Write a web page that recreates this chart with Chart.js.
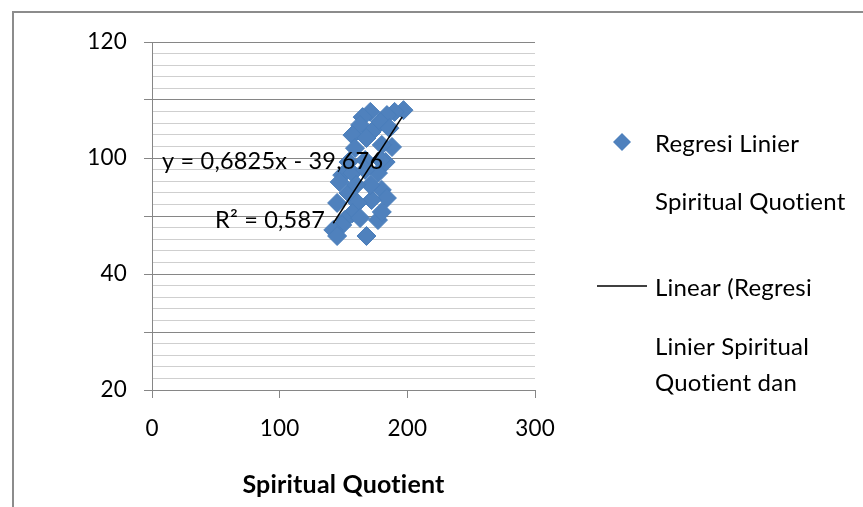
<!DOCTYPE html>
<html>
<head>
<meta charset="utf-8">
<script src="https://cdn.jsdelivr.net/npm/chart.js@4/dist/chart.umd.min.js"></script>
<style>
  body { margin: 0; background: #fff; }
  #wrap { width: 863px; height: 507px; }
</style>
</head>
<body>
<div id="wrap"><canvas id="sqChart" width="863" height="507"></canvas></div>
<script>
// Spiritual Quotient (x) vs regression score (y)
const sqValues = [197, 190, 184, 171, 165, 179, 186, 163, 172, 157,
                  168, 188, 180, 159, 167, 183, 154, 179, 149, 157,
                  177, 167, 147, 180, 184, 154, 172, 161, 145, 157,
                  151, 177, 180, 149, 142, 145, 168, 163, 171, 160];
const regValues = [96.5, 95.9, 94.8, 95.9, 94.1, 92.4, 90.3, 91.4, 89.0, 87.9,
                   86.9, 83.8, 84.5, 83.4, 79.3, 78.6, 78.6, 79.3, 74.1, 74.8,
                   74.8, 75.9, 71.7, 69.0, 66.2, 67.9, 65.5, 64.5, 64.5, 61.0,
                   58.6, 58.6, 61.4, 56.9, 55.2, 53.1, 53.1, 59.3, 70.7, 70.7];

// trendline end points
const trendX = [142, 196];
const trendY = [57.5, 94.2];

// y axis labels as printed (other major lines carry no label)
const yTickText = { 120: '120', 80: '100', 40: '40', 0: '20' };
const xTickStep = 100;

const equationText = 'y = 0,6825x - 39,676';
const r2Text = 'R² = 0,587';
const legendLines1 = ['Regresi Linier', 'Spiritual Quotient'];
const legendLines2 = ['Linear (Regresi', 'Linier Spiritual', 'Quotient dan'];

const FONT = 'Lato, "Open Sans", sans-serif';
const BLUE = '#4F81BD';
const MAJOR = '#868686';
const MINOR = '#cfcfcf';

const scatterPoints = sqValues.map((x, i) => ({ x: x, y: regValues[i] }));
const trendPoints = trendX.map((x, i) => ({ x: x, y: trendY[i] }));

const extrasPlugin = {
    id: 'extras',
    beforeDraw(chart) {
        const ctx = chart.ctx;
        // small spacing keeps Lato from joining "ti"
        ctx.letterSpacing = '0.2px';
        ctx.save();
        ctx.fillStyle = '#fff';
        ctx.fillRect(0, 0, chart.width, chart.height);
        // outer chart frame (left and top edges visible)
        ctx.fillStyle = '#8c8c8c';
        ctx.fillRect(12, 11, 2, chart.height - 11);
        ctx.fillRect(12, 11, chart.width - 12, 2);
        ctx.restore();
    },
    afterDatasetsDraw(chart) {
        const ctx = chart.ctx;
        ctx.save();
        ctx.fillStyle = '#000';
        ctx.font = '23.5px ' + FONT;
        ctx.textBaseline = 'middle';
        ctx.textAlign = 'left';
        ctx.fillText(equationText, 162, 161);
        ctx.fillText(r2Text, 215, 220);

        // legend
        ctx.fillStyle = BLUE;
        ctx.beginPath();
        ctx.moveTo(622, 133);
        ctx.lineTo(631, 142);
        ctx.lineTo(622, 151);
        ctx.lineTo(613, 142);
        ctx.closePath();
        ctx.fill();

        ctx.strokeStyle = '#000';
        ctx.lineWidth = 1.5;
        ctx.beginPath();
        ctx.moveTo(597, 286);
        ctx.lineTo(647, 286);
        ctx.stroke();

        ctx.fillStyle = '#000';
        ctx.font = '24px ' + FONT;
        ctx.fillText(legendLines1[0], 655, 144);
        ctx.fillText(legendLines1[1], 655, 202);
        ctx.fillText(legendLines2[0], 655, 288);
        ctx.fillText(legendLines2[1], 655, 347);
        ctx.fillText(legendLines2[2], 655, 383);
        ctx.restore();
    }
};

const ctx = document.getElementById('sqChart').getContext('2d');
new Chart(ctx, {
    type: 'scatter',
    data: {
        datasets: [{
            label: 'Linear (Regresi Linier Spiritual Quotient dan',
            type: 'line',
            data: trendPoints,
            borderColor: '#000',
            borderWidth: 1.5,
            pointRadius: 0,
            fill: false,
            order: 0
        }, {
            label: 'Regresi Linier Spiritual Quotient',
            data: scatterPoints,
            pointStyle: 'rectRot',
            pointRadius: 9.5,
            backgroundColor: BLUE,
            borderColor: '#4A7EBB',
            borderWidth: 1,
            order: 1
        }]
    },
    options: {
        responsive: false,
        animation: false,
        layout: {
            padding: { left: 0, top: 42, right: 328, bottom: 0 }
        },
        plugins: {
            legend: { display: false },
            tooltip: { enabled: false }
        },
        scales: {
            x: {
                type: 'linear',
                min: 0,
                max: 300,
                ticks: {
                    stepSize: xTickStep,
                    color: '#000',
                    font: { family: FONT, size: 22.5 },
                    padding: 17,
                    maxRotation: 0
                },
                grid: {
                    drawOnChartArea: false,
                    tickLength: 8,
                    color: MAJOR
                },
                border: { color: MAJOR },
                title: {
                    display: true,
                    text: 'Spiritual Quotient',
                    color: '#000',
                    font: { family: FONT, size: 25, weight: 'bold' },
                    padding: { top: 9, bottom: 7 }
                },
                afterFit(scale) { scale.height = 117; }
            },
            y: {
                type: 'linear',
                min: 0,
                max: 120,
                ticks: {
                    stepSize: 4,
                    autoSkip: false,
                    color: '#000',
                    font: { family: FONT, size: 22.5 },
                    padding: 17,
                    callback: (v) => (yTickText[v] !== undefined ? yTickText[v] : '')
                },
                grid: {
                    tickLength: 8,
                    color: (c) => (c.tick && c.tick.value % 20 === 0 ? MAJOR : MINOR),
                    tickColor: (c) => (c.tick && c.tick.value % 20 === 0 ? MAJOR : 'rgba(0,0,0,0)')
                },
                border: { color: MAJOR },
                afterFit(scale) { scale.width = 152; }
            }
        }
    },
    plugins: [extrasPlugin]
});
</script>
</body>
</html>
